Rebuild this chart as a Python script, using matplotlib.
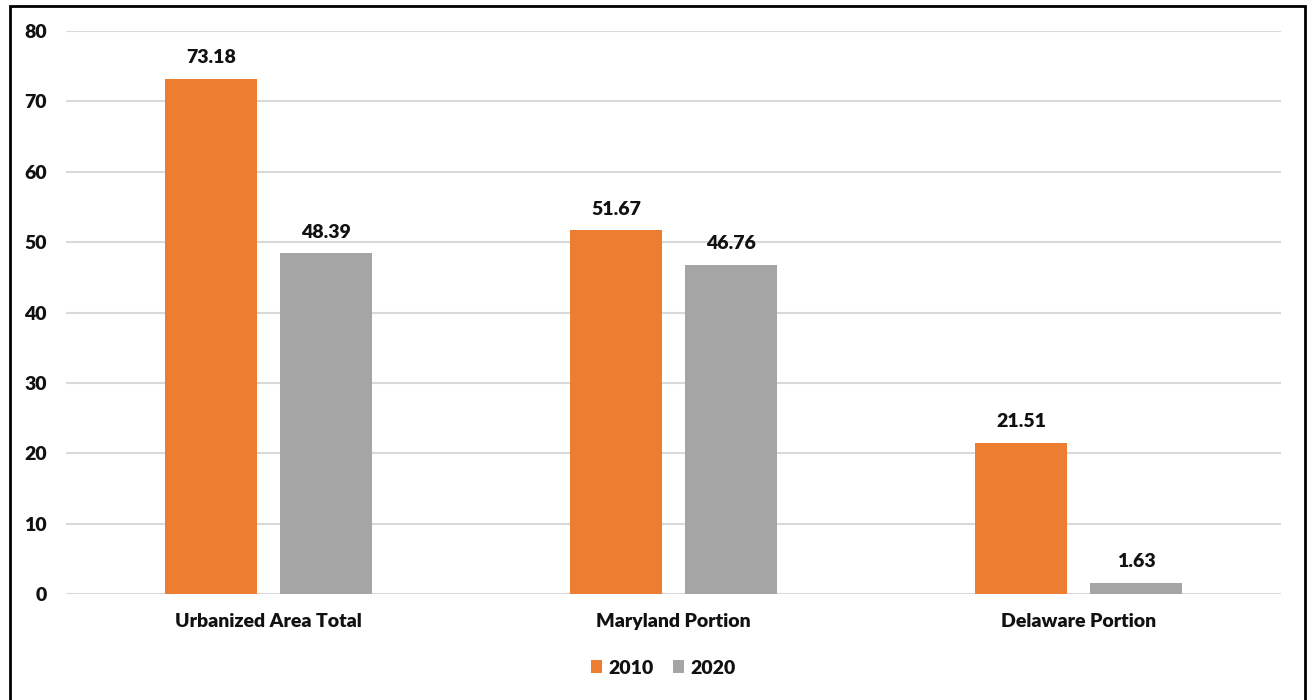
import matplotlib
matplotlib.use("Agg")
import matplotlib.pyplot as plt
from matplotlib.patches import Rectangle
import numpy as np

categories = ["Urbanized Area Total", "Maryland Portion", "Delaware Portion"]
series_names = ["2010", "2020"]
values_2010 = [73.18, 51.67, 21.51]
values_2020 = [48.39, 46.76, 1.63]
y_ticks = [0, 10, 20, 30, 40, 50, 60, 70, 80]

ORANGE = "#ED7D31"
GRAY = "#A5A5A5"
GRID = "#D9D9D9"
TEXT = "#111111"
FS = 14

plt.rcParams["font.family"] = ["Lato", "DejaVu Sans"]
plt.rcParams["font.weight"] = "bold"

fig = plt.figure(figsize=(13.07, 7.0), dpi=100)
W, H = 1307, 700
ax = fig.add_axes([66 / W, 1 - 594 / H, (1281 - 66) / W, (594 - 31) / H])

x = np.arange(len(categories))
bw = 0.225
gap = 0.059
off = (bw + gap) / 2

b1 = ax.bar(x - off, values_2010, bw, color=ORANGE, label=series_names[0], zorder=3)
b2 = ax.bar(x + off, values_2020, bw, color=GRAY, label=series_names[1], zorder=3)

for bars, vals in ((b1, values_2010), (b2, values_2020)):
    for rect, v in zip(bars, vals):
        ax.annotate(f"{v:.2f}", (rect.get_x() + rect.get_width() / 2, v),
                    xytext=(0, 9), textcoords="offset points",
                    ha="center", va="bottom", fontsize=FS, fontweight="heavy",
                    color=TEXT)

ax.set_xlim(-0.5, len(categories) - 0.5)
ax.set_ylim(0, 80)
ax.set_yticks(y_ticks)
ax.set_yticklabels([str(t) for t in y_ticks])
ax.set_xticks(x)
ax.set_xticklabels(categories)
ax.tick_params(axis="y", length=0, pad=14, labelsize=FS, labelcolor=TEXT)
ax.tick_params(axis="x", length=0, pad=14, labelsize=FS, labelcolor=TEXT)
for lbl in ax.get_xticklabels() + ax.get_yticklabels():
    lbl.set_fontweight("heavy")

ax.yaxis.grid(True, color=GRID, linewidth=1.5, zorder=0)
ax.set_axisbelow(True)
for s in ax.spines.values():
    s.set_visible(False)

leg = fig.legend(handles=[b1, b2], labels=series_names, loc="center",
                 bbox_to_anchor=(663 / W, 1 - 668 / H), ncol=2, frameon=False,
                 fontsize=FS, handlelength=0.6, handleheight=0.6,
                 handletextpad=0.3, columnspacing=1.0)
for t in leg.get_texts():
    t.set_fontweight("heavy")
    t.set_color(TEXT)

# outer frame around the chart
fig.patches.append(Rectangle((10 / W, -0.05), (1305 - 10) / W, 1.05 - 6 / H,
                             transform=fig.transFigure, fill=False,
                             edgecolor="black", linewidth=2.0, zorder=10))

fig.savefig("out.png", dpi=100)
